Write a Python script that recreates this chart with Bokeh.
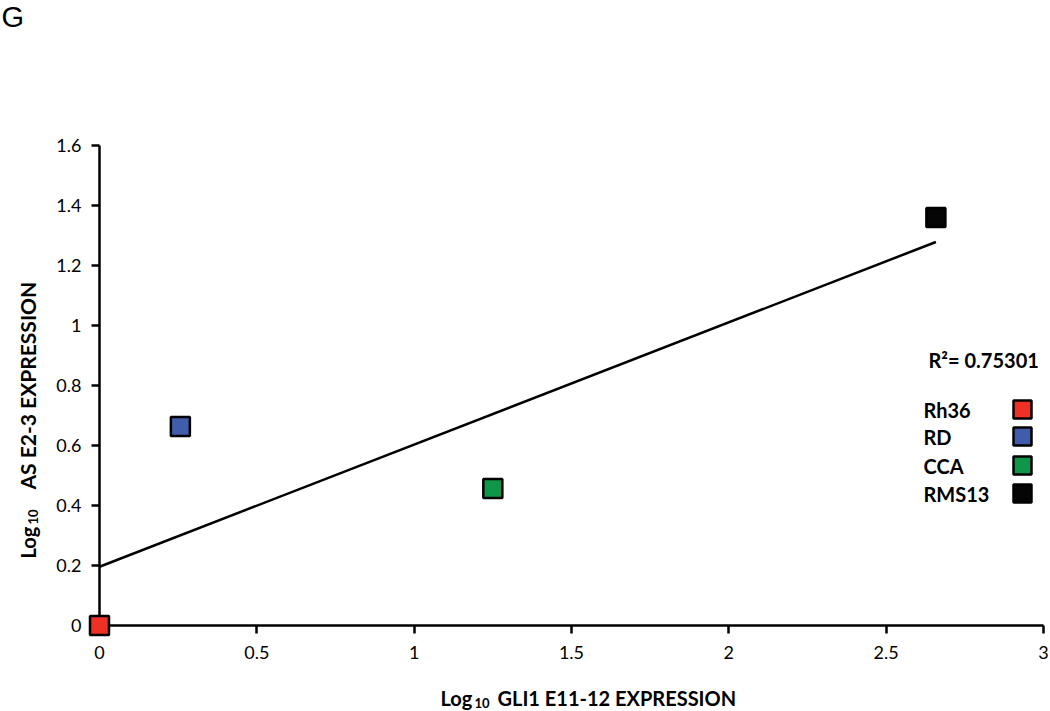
import numpy as np
from bokeh.plotting import figure
from bokeh.models import Range1d, LinearAxis, Label, FixedTicker, CustomJSTickFormatter
from bokeh.embed import file_html
from bokeh.resources import INLINE

# ---------------- data ----------------
cell_lines = ["Rh36", "RD", "CCA", "RMS13"]
gli1_log = [0.0, 0.257, 1.25, 2.658]        # Log10 GLI1 E11-12 expression
as_e23_log = [0.0, 0.663, 0.457, 1.36]      # Log10 AS E2-3 expression
colors = ["#EE3124", "#3F5DAB", "#10964A", "#050505"]
x_ticks = [0, 0.5, 1, 1.5, 2, 2.5, 3]
y_ticks = [0, 0.2, 0.4, 0.6, 0.8, 1, 1.2, 1.4, 1.6]
r2_text = "R\u00b2= 0.75301"
panel_letter = "G"

# ---------------- layout (pixels) ----------------
W, H = 1050, 711
X_ORIGIN, X_END = 99, 1043      # pixel x of data 0 and 3
Y_ORIGIN = 625                  # pixel y of data 0
SX = (X_END - X_ORIGIN) / 3.0
SY = 300.0
X0 = -X_ORIGIN / SX
X1 = X0 + W / SX
Y0 = -(H - Y_ORIGIN) / SY
Y1 = Y0 + H / SY


def dx(px):
    return (px - X_ORIGIN) / SX


def dy(py):
    return (Y_ORIGIN - py) / SY


FONT = "Lato"

p = figure(width=W, height=H, x_range=Range1d(X0, X1), y_range=Range1d(Y0, Y1),
           x_axis_location=None, y_axis_location=None, title=None,
           output_backend="svg", toolbar_location=None,
           min_border_left=0, min_border_right=0, min_border_top=0, min_border_bottom=0)
p.outline_line_color = None
p.xgrid.visible = False
p.ygrid.visible = False
p.background_fill_color = "white"
p.border_fill_color = "white"

fmt = CustomJSTickFormatter(code="return tick.toString();")

xa = LinearAxis(fixed_location=0, bounds=(0, 3), ticker=FixedTicker(ticks=x_ticks), formatter=fmt)
ya = LinearAxis(fixed_location=0, bounds=(0, 1.6), ticker=FixedTicker(ticks=y_ticks), formatter=fmt)
for ax in (xa, ya):
    ax.axis_line_width = 2.5
    ax.axis_line_color = "black"
    ax.major_tick_line_width = 2.5
    ax.major_tick_line_color = "black"
    ax.major_tick_in = 0
    ax.major_tick_out = 8
    ax.minor_tick_line_color = None
    ax.major_label_text_font = FONT
    ax.major_label_text_font_size = "18px"
    ax.major_label_text_color = "black"
xa.major_label_standoff = 12
ya.major_label_standoff = 10
p.add_layout(xa, "below")
p.add_layout(ya, "left")

# regression line (least squares fit of the data)
slope, intercept = np.polyfit(gli1_log, as_e23_log, 1)
xmax = max(gli1_log)
p.line([0, xmax], [intercept, intercept + slope * xmax], line_width=2.5, line_color="black")

# data points
p.scatter(gli1_log, as_e23_log, marker="square", size=19, fill_color=colors,
          line_color="black", line_width=2.5, level="overlay")

# ---------------- texts ----------------
BOLD = dict(text_font=FONT, text_font_style="bold", text_color="black")

p.add_layout(Label(x=dx(1), y=dy(0), text=panel_letter, text_font="Liberation Sans",
                   text_font_size="29px", text_baseline="top", text_align="left",
                   text_color="black"))

# x axis label
p.add_layout(Label(x=dx(440), y=dy(697), text="Log", text_font_size="20px",
                   text_baseline="alphabetic", **BOLD))
p.add_layout(Label(x=dx(474), y=dy(702), text="10", text_font_size="13px",
                   text_baseline="alphabetic", **BOLD))
p.add_layout(Label(x=dx(497), y=dy(697), text="GLI1 E11-12  EXPRESSION", text_font_size="20px",
                   text_baseline="alphabetic", **BOLD))

# y axis label (rotated)
p.add_layout(Label(x=dx(27), y=dy(558), text="Log", text_font_size="20px", angle=np.pi / 2,
                   text_baseline="alphabetic", text_align="left", **BOLD))
p.add_layout(Label(x=dx(32), y=dy(524), text="10", text_font_size="13px", angle=np.pi / 2,
                   text_baseline="alphabetic", text_align="left", **BOLD))
p.add_layout(Label(x=dx(27), y=dy(380), text="AS  E2-3  EXPRESSION", text_font_size="21px",
                   angle=np.pi / 2, text_baseline="alphabetic", text_align="center", **BOLD))

# R^2
p.add_layout(Label(x=dx(928), y=dy(359), text=r2_text, text_font_size="20px",
                   text_baseline="alphabetic", **BOLD))

# legend (label left, swatch right)
legend_rows_py = [409, 436, 465, 493]
for name, py in zip(cell_lines, legend_rows_py):
    p.add_layout(Label(x=dx(923), y=dy(py), text=name, text_font_size="20px",
                       text_baseline="middle", **BOLD))
p.scatter([dx(1022)] * len(cell_lines), [dy(v) for v in legend_rows_py], marker="square",
          size=18, fill_color=colors, line_color="black", line_width=2.5, level="overlay")

open("out.html", "w").write(file_html(p, INLINE))
